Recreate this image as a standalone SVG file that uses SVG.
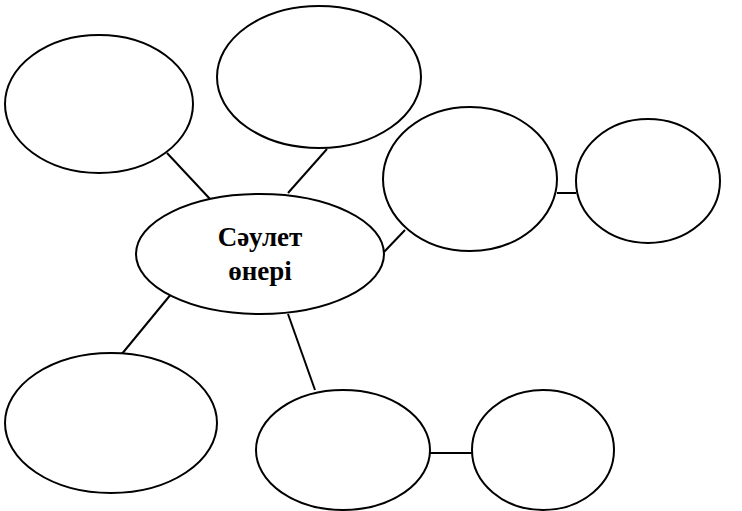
<svg xmlns="http://www.w3.org/2000/svg" width="742" height="511" viewBox="0 0 742 511">
<style>
.n{fill:#fff;stroke:#000;stroke-width:2}
.c line{stroke:#000;stroke-width:2}
.t{font-family:"Liberation Serif","Times New Roman",serif;font-weight:bold;font-size:27px;fill:#000;text-anchor:middle}
</style>
<rect width="742" height="511" fill="#fff"/>
<g id="connectors" class="c">
<line x1="167" y1="153" x2="210" y2="199"/>
<line x1="327" y1="149" x2="288" y2="193"/>
<line x1="405" y1="230" x2="384" y2="252"/>
<line x1="557" y1="193" x2="576" y2="193"/>
<line x1="172" y1="293" x2="121" y2="355"/>
<line x1="288" y1="314" x2="315" y2="390"/>
<line x1="430" y1="453" x2="472" y2="453"/>
</g>
<g id="n1"><ellipse class="n" cx="99" cy="104" rx="94" ry="69"/></g>
<g id="n2"><ellipse class="n" cx="319" cy="77" rx="102" ry="71"/></g>
<g id="n3"><ellipse class="n" cx="470" cy="179" rx="87" ry="72"/></g>
<g id="n4"><ellipse class="n" cx="648" cy="181" rx="72" ry="62"/></g>
<g id="center"><ellipse class="n" cx="260" cy="254" rx="124" ry="60"/>
<text class="t" x="260" y="246">Сәулет</text>
<text class="t" x="260" y="280">өнері</text></g>
<g id="n5"><ellipse class="n" cx="111" cy="423" rx="106" ry="70"/></g>
<g id="n6"><ellipse class="n" cx="343" cy="450" rx="87" ry="60"/></g>
<g id="n7"><ellipse class="n" cx="543" cy="450" rx="71" ry="60"/></g>
</svg>
